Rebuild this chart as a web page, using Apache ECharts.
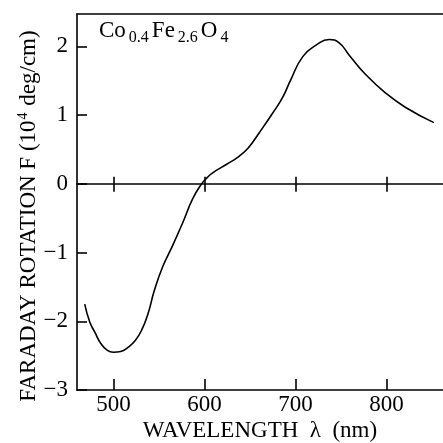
<!DOCTYPE html>
<html>
<head>
<meta charset="utf-8">
<script src="https://cdn.jsdelivr.net/npm/echarts@6/dist/echarts.min.js"></script>
<style>html,body{margin:0;padding:0;background:#fff}#c{width:443px;height:443px}</style>
</head>
<body>
<div id="c"></div>
<script>
const wavelength = [468.5, 474, 480, 486, 493, 500, 508, 516, 524, 531, 538, 545, 554, 565, 576, 587, 597, 603, 609, 624, 638, 648, 660, 675, 686, 695, 708, 723, 737, 748, 759, 777, 799, 821, 852];
const rotation = [-1.75, -2.01, -2.17, -2.32, -2.42, -2.45, -2.44, -2.38, -2.28, -2.13, -1.89, -1.55, -1.21, -0.90, -0.57, -0.22, 0, 0.09, 0.16, 0.28, 0.40, 0.52, 0.74, 1.03, 1.26, 1.52, 1.85, 2.02, 2.10, 2.05, 1.87, 1.59, 1.32, 1.11, 0.89];
const xTicks = [500, 600, 700, 800];
const yTicks = [-3, -2, -1, 0, 1, 2];
const xRange = [460, 862];
const yRange = [-3, 2.47];

const FONT = '"Liberation Serif", "Times New Roman", serif';
const chart = echarts.init(document.getElementById('c'), null, {renderer: 'canvas'});
const pts = wavelength.map((w, i) => [w, rotation[i]]);
const axisLineStyle = {color: '#000', width: 1.6};

chart.setOption({
  animation: false,
  backgroundColor: '#fff',
  grid: {left: 77, right: 0, top: 14, bottom: 53, containLabel: false, outerBoundsMode: 'none'},
  xAxis: [
    {
      type: 'value', position: 'bottom', min: xRange[0], max: xRange[1],
      axisLine: {show: true, onZero: false, lineStyle: axisLineStyle},
      axisTick: {show: true, inside: true, length: 11, lineStyle: axisLineStyle, customValues: xTicks},
      axisLabel: {show: true, customValues: xTicks, color: '#000', fontFamily: FONT, fontSize: 23, margin: 3},
      splitLine: {show: false}
    },
    {
      type: 'value', position: 'bottom', min: xRange[0], max: xRange[1],
      axisLine: {show: true, onZero: true, onZeroAxisIndex: 0, lineStyle: axisLineStyle},
      axisTick: {show: true, inside: true, length: 7, lineStyle: axisLineStyle, customValues: xTicks},
      axisLabel: {show: false},
      splitLine: {show: false}
    },
    {
      type: 'value', position: 'bottom', min: xRange[0], max: xRange[1],
      axisLine: {show: false, onZero: true, onZeroAxisIndex: 0},
      axisTick: {show: true, inside: false, length: 8, lineStyle: axisLineStyle, customValues: xTicks},
      axisLabel: {show: false},
      splitLine: {show: false}
    },
    {
      type: 'value', position: 'top', min: xRange[0], max: xRange[1],
      axisLine: {show: true, onZero: false, lineStyle: axisLineStyle},
      axisTick: {show: false},
      axisLabel: {show: false},
      splitLine: {show: false}
    }
  ],
  yAxis: {
    type: 'value', position: 'left', min: yRange[0], max: yRange[1],
    axisLine: {show: true, onZero: false, lineStyle: axisLineStyle},
    axisTick: {show: true, inside: true, length: 10, lineStyle: axisLineStyle, customValues: yTicks},
    axisLabel: {show: true, customValues: yTicks, color: '#000', fontFamily: FONT, fontSize: 23, margin: 9,
      formatter: v => String(v).replace('-', '\u2212')},
    splitLine: {show: false}
  },
  graphic: [
    {
      type: 'text', x: 99, y: 31,
      style: {
        text: '{a|Co}{s|0.4}{a|Fe}{s|2.6}{a|O}{s|4}',
        align: 'left', verticalAlign: 'middle',
        rich: {
          a: {fontFamily: FONT, fontSize: 23, fill: '#000', lineHeight: 23, padding: [0, 2, 0, 0]},
          s: {fontFamily: FONT, fontSize: 16, fill: '#000', lineHeight: 16, padding: [14, 3, 0, 1]}
        }
      }
    },
    {
      type: 'text', x: 28, y: 216, rotation: Math.PI / 2,
      style: {
        text: '{a|FARADAY ROTATION F (10}{s|4}{a| deg/cm)}',
        align: 'center', verticalAlign: 'middle',
        rich: {
          a: {fontFamily: FONT, fontSize: 23, fill: '#000', lineHeight: 24, verticalAlign: 'bottom'},
          s: {fontFamily: FONT, fontSize: 14, fill: '#000', lineHeight: 14, verticalAlign: 'top', padding: [0, 1, 10, 1]}
        }
      }
    },
    {
      type: 'text', x: 260, y: 431,
      style: {
        text: 'WAVELENGTH  \u03bb  (nm)',
        align: 'center', verticalAlign: 'middle',
        fontFamily: FONT, fontSize: 23, fill: '#000'
      }
    }
  ],
  series: [{
    type: 'line', xAxisIndex: 0, yAxisIndex: 0, data: pts,
    showSymbol: false, smooth: 0.5,
    lineStyle: {color: '#000', width: 1.6}
  }]
});
</script>
</body>
</html>
